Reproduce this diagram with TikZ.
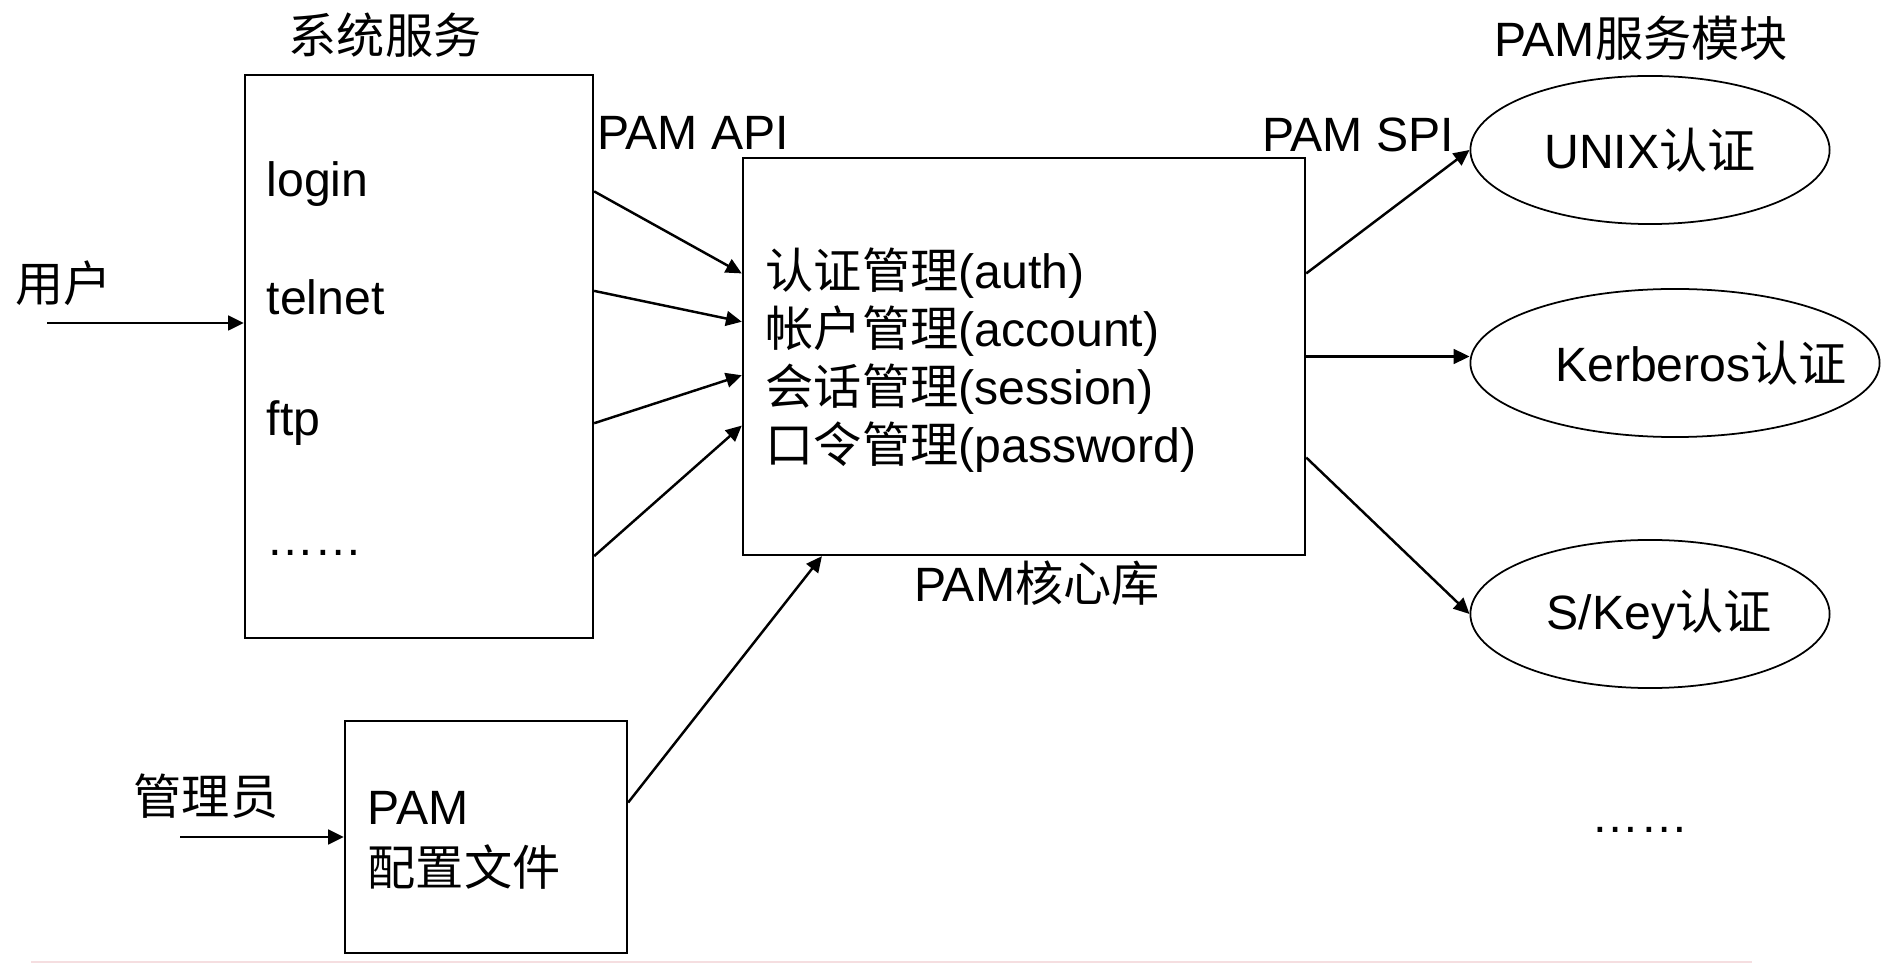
\documentclass[tikz,border=0pt]{standalone}
\usepackage{fontspec}
\setmainfont{Liberation Sans}
\newfontfamily\zhfont{Noto Sans CJK SC}
\newcommand{\zh}[1]{{\zhfont #1}}
\usetikzlibrary{arrows.meta,calc,shapes.geometric}
\definecolor{edge}{RGB}{245,222,224}

\begin{document}
\begin{tikzpicture}[x=0.01cm, y=-0.01cm,
    txt/.style={font=\fontsize{13.7}{16.5}\selectfont, inner sep=0pt},
    blk/.style={draw, line width=0.6pt, inner sep=0pt},
    oval/.style={draw, ellipse, line width=0.5pt, inner sep=0pt, minimum width=3.59cm, minimum height=1.48cm},
    arr/.style={-{Triangle[length=4.5pt,width=4.2pt]}, line width=0.7pt}]
  \useasboundingbox (0,0) rectangle (1884,964);

  % system services
  \node[blk, minimum width=3.48cm, minimum height=5.63cm] (sys) at (419,356.5) {};
  \node[txt] (systitle) at (385,35) {\zh{系统服务}};
  \node[txt, anchor=base west] (login) at (266,197) {login};
  \node[txt, anchor=base west] (telnet) at (266,315) {telnet};
  \node[txt, anchor=base west] (ftp) at (266,436) {ftp};
  \node[txt, anchor=base west] (more) at (266,556) {……};
  \node[txt] (user) at (64,283) {\zh{用户}};
  \coordinate (userin) at (47,323);
  \draw[arr] (userin) -- (userin -| sys.west);

  % core library
  \node[blk, minimum width=5.62cm, minimum height=3.97cm] (core) at (1024,356.5) {};
  \node[txt, anchor=west, align=left] (funcs) at (765,360) {\zh{认证管理}(auth)\\ \zh{帐户管理}(account)\\ \zh{会话管理}(session)\\ \zh{口令管理}(password)};
  \node[txt] (corelbl) at (1037,583) {PAM\zh{核心库}};
  \node[txt] (api) at (693,133) {PAM API};
  \node[txt] (spi) at (1358,135) {PAM SPI};

  % config file
  \node[blk, minimum width=2.82cm, minimum height=2.32cm] (cfg) at (486,837) {};
  \node[txt, anchor=west, align=left, font=\fontsize{13.7}{17.4}\selectfont] (cfgtxt) at (367,840) {PAM\\ \zh{配置文件}};
  \node[txt] (admin) at (206,796) {\zh{管理员}};
  \coordinate (adminin) at (180,837);
  \draw[arr] (adminin) -- (cfg.west);

  % modules
  \node[txt] (modtitle) at (1641,38) {PAM\zh{服务模块}};
  \node[oval, label={[txt]center:UNIX\zh{认证}}] (unix) at (1650,150) {};
  \node[oval, minimum width=4.09cm, label={[txt, xshift=0.26cm]center:Kerberos\zh{认证}}] (kerb) at (1675,363) {};
  \node[oval, label={[txt, xshift=0.09cm]center:S/Key\zh{认证}}] (skey) at (1650,614) {};
  \node[txt, anchor=base] (moremod) at (1640,832) {……};

  \foreach \a/\b in {0.208/0.292, 0.384/0.413, 0.618/0.547, 0.853/0.673}
    \draw[arr] ($(sys.north east)!\a!(sys.south east)$) -- ($(core.north west)!\b!(core.south west)$);
  \draw[arr] ($(cfg.north east)!0.353!(cfg.south east)$) -- ($(core.south west)!0.142!(core.south east)$);
  \draw[arr] ($(core.north east)!0.292!(core.south east)$) -- (unix.west);
  \draw[arr] (core.east) -- (core.east -| kerb.west);
  \draw[arr] ($(core.north east)!0.753!(core.south east)$) -- (skey.west);

  \draw[edge, line width=0.8pt] (31,962) -- (1752,962);
\end{tikzpicture}
\end{document}
